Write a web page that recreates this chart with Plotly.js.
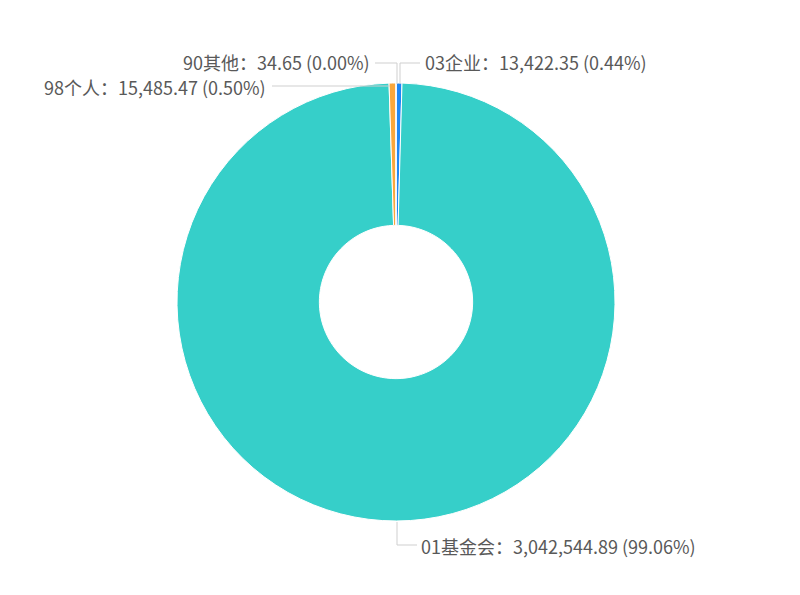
<!DOCTYPE html>
<html>
<head>
<meta charset="utf-8">
<script src="https://cdn.plot.ly/plotly-3.0.1.min.js"></script>
<style>
  html, body { margin: 0; padding: 0; background: #fff; }
  #chart_area { width: 800px; height: 595px; }
</style>
</head>
<body>
<div id="chart_area"></div>
<script>
// slice order clockwise from 12 o'clock
var names = ['03企业', '01基金会', '98个人', '90其他'];
var values = [13422.35, 3042544.89, 15485.47, 34.65];
var colors = ['#1e86f5', '#36cfc9', '#faa73c', '#9aa0a6'];

var W = 800, H = 595;
function px(x) { return x / W; }
function py(y) { return 1 - y / H; }

function fmt(v) {
  return v.toLocaleString('en-US', { minimumFractionDigits: 2, maximumFractionDigits: 2 });
}

var total = values.reduce(function (a, b) { return a + b; }, 0);
var labelText = names.map(function (n, i) {
  return n + '：' + fmt(values[i]) + ' (' + (values[i] / total * 100).toFixed(2) + '%)';
});

var trace = {
  type: 'pie',
  labels: names,
  values: values,
  sort: false,
  direction: 'clockwise',
  rotation: 0,
  hole: 0.35,
  textinfo: 'none',
  hoverinfo: 'none',
  marker: { colors: colors, line: { color: '#ffffff', width: 1 } },
  domain: { x: [px(176), px(616)], y: [py(521), py(83)] }
};

// label placement (pixel positions of text anchor) and leader paths
var labelPos = [
  { x: 423, y: 62, anchor: 'left' },
  { x: 419, y: 546, anchor: 'left' },
  { x: 268, y: 87, anchor: 'right' },
  { x: 372, y: 62, anchor: 'right' }
];
var leaders = [
  [[400, 84], [400, 63], [420, 63]],
  [[397, 522], [397, 545], [417, 545]],
  [[390, 86], [272, 86]],
  [[397, 84], [397, 63], [375, 63]]
];

var annotations = labelText.map(function (t, i) {
  var p = labelPos[i];
  return {
    text: t, showarrow: false,
    xref: 'paper', yref: 'paper',
    x: px(p.x), y: py(p.y),
    xanchor: p.anchor, yanchor: 'middle',
    font: { family: 'Noto Sans CJK SC, Noto Sans', size: 18, color: '#595959' }
  };
});

var shapes = leaders.map(function (pts) {
  var d = pts.map(function (q, k) {
    return (k ? 'L' : 'M') + px(q[0]) + ',' + py(q[1]);
  }).join(' ');
  return {
    type: 'path', xref: 'paper', yref: 'paper', path: d,
    line: { color: '#cfcfcf', width: 1 }
  };
});

var layout = {
  width: W, height: H,
  margin: { l: 0, r: 0, t: 0, b: 0 },
  showlegend: false,
  paper_bgcolor: '#fff',
  annotations: annotations,
  shapes: shapes
};

Plotly.newPlot('chart_area', [trace], layout, { displayModeBar: false, staticPlot: true });
</script>
</body>
</html>
